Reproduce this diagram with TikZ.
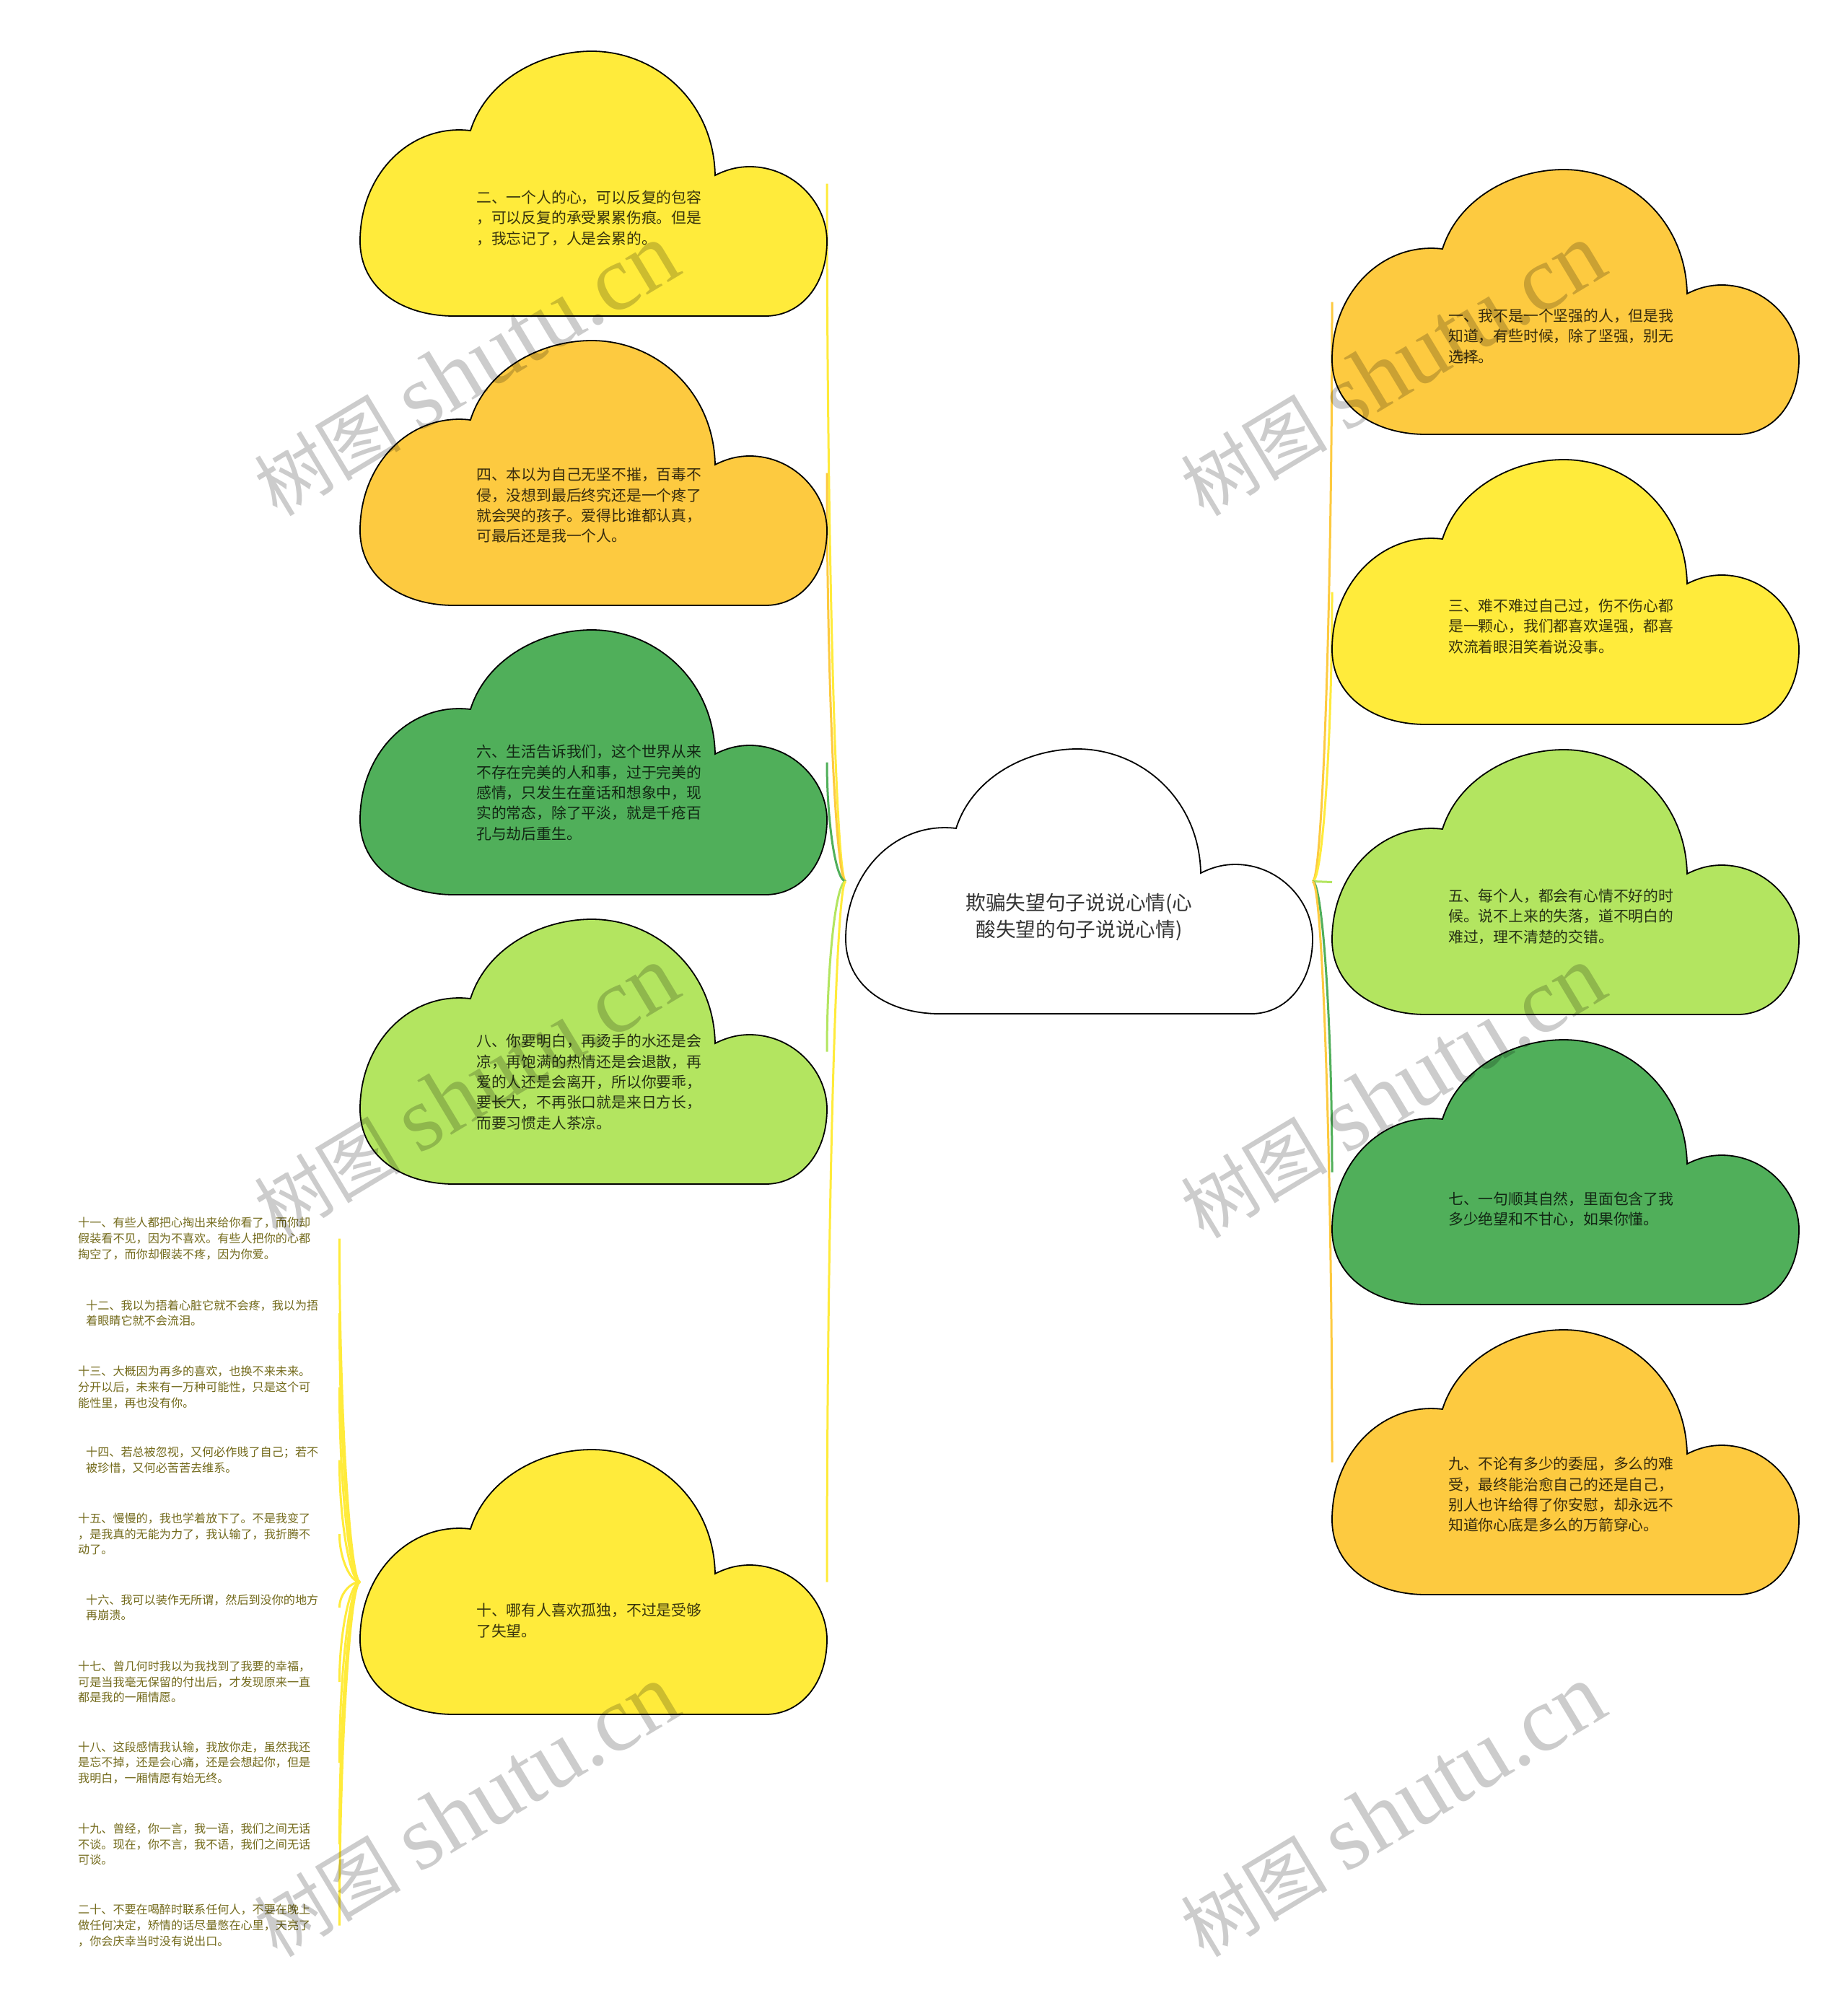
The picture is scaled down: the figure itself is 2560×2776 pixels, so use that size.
\documentclass[tikz,border=0pt]{standalone}
\usepackage{fontspec}
\setmainfont{Noto Sans CJK SC}
\newfontfamily\wmlatin{Liberation Serif}
\definecolor{cyellow}{HTML}{FFEB3B}
\definecolor{corange}{HTML}{FDCA40}
\definecolor{cgreen}{HTML}{50AF5A}
\definecolor{clight}{HTML}{B3E560}
\definecolor{ctitle}{HTML}{333333}
\newcommand\cloudat[2]{%
  \path[cloudline, fill=#2, shift={(#1)}]
  (130,367) -- (562,367)
  .. controls (610,367) and (647,325) .. (647,263)
  .. controls (647,210) and (600,160) .. (540,160)
  .. controls (525,160) and (510,163) .. (492,172)
  .. controls (490,70) and (410,0) .. (321,0)
  .. controls (250,0) and (175,40) .. (153,110)
  .. controls (70,100) and (0,170) .. (0,263)
  .. controls (0,330) and (60,367) .. (130,367) -- cycle;}
\begin{document}
\begin{tikzpicture}[x=1pt,y=-1pt,
  cloudbox/.style={minimum width=647pt, minimum height=367pt, inner sep=0pt, outer sep=0pt, anchor=north west},
  cloudline/.style={draw=black, line width=1.8pt},
  conn/.style={draw=#1, line width=3pt},
  ctext/.style={text=#1!22!black, anchor=west, align=left, inner sep=0pt, text width=330pt, font=\fontsize{20.8}{28.3}\selectfont},
  leaf/.style={text=cyellow!45!black, anchor=west, align=left, inner sep=0pt, font=\fontsize{16.1}{21.6}\selectfont},
  wm/.style={text=black, text opacity=0.2, rotate=31, inner sep=0pt}]
\fill[white] (0,0) rectangle (2560,2776);
\useasboundingbox (0,0) rectangle (2560,2776);

% boxes
\node[cloudbox] (cen) at (1172,1038) {};
\node[cloudbox] (c2) at (499,71) {};
\node[cloudbox] (c4) at (499,472) {};
\node[cloudbox] (c6) at (499,873) {};
\node[cloudbox] (c8) at (499,1274) {};
\node[cloudbox] (c10) at (499,2009) {};
\node[cloudbox] (c1) at (1846,235) {};
\node[cloudbox] (c3) at (1846,637) {};
\node[cloudbox] (c5) at (1846,1039) {};
\node[cloudbox] (c7) at (1846,1441) {};
\node[cloudbox] (c9) at (1846,1843) {};

% leaves
\node[leaf, text width=362pt] (l11) at (108,1716.5) {十一、有些人都把心掏出来给你看了，而你却\\假装看不见，因为不喜欢。有些人把你的心都\\掏空了，而你却假装不疼，因为你爱。};
\node[leaf, text width=351pt] (l12) at (119,1820) {十二、我以为捂着心脏它就不会疼，我以为捂\\着眼睛它就不会流泪。};
\node[leaf, text width=362pt] (l13) at (108,1922.5) {十三、大概因为再多的喜欢，也换不来未来。\\分开以后，未来有一万种可能性，只是这个可\\能性里，再也没有你。};
\node[leaf, text width=351pt] (l14) at (119,2023.5) {十四、若总被忽视，又何必作贱了自己；若不\\被珍惜，又何必苦苦去维系。};
\node[leaf, text width=362pt] (l15) at (108,2126) {十五、慢慢的，我也学着放下了。不是我变了\\，是我真的无能为力了，我认输了，我折腾不\\动了。};
\node[leaf, text width=351pt] (l16) at (119,2228) {十六、我可以装作无所谓，然后到没你的地方\\再崩溃。};
\node[leaf, text width=362pt] (l17) at (108,2331) {十七、曾几何时我以为我找到了我要的幸福，\\可是当我毫无保留的付出后，才发现原来一直\\都是我的一厢情愿。};
\node[leaf, text width=362pt] (l18) at (108,2443) {十八、这段感情我认输，我放你走，虽然我还\\是忘不掉，还是会心痛，还是会想起你，但是\\我明白，一厢情愿有始无终。};
\node[leaf, text width=362pt] (l19) at (108,2556) {十九、曾经，你一言，我一语，我们之间无话\\不谈。现在，你不言，我不语，我们之间无话\\可谈。};
\node[leaf, text width=362pt] (l20) at (108,2668.5) {二十、不要在喝醉时联系任何人，不要在晚上\\做任何决定，矫情的话尽量憋在心里，天亮了\\，你会庆幸当时没有说出口。};

% connectors
\draw[conn=cyellow] (cen.west) .. controls +(-14,0) and +(0,484) .. (c2.east);
\draw[conn=corange] (cen.west) .. controls +(-14,0) and +(0,283) .. (c4.east);
\draw[conn=cgreen] (cen.west) .. controls +(-14,0) and +(0,82) .. (c6.east);
\draw[conn=clight] (cen.west) .. controls +(-14,0) and +(0,-118) .. (c8.east);
\draw[conn=cyellow] (cen.west) .. controls +(-14,0) and +(0,-486) .. (c10.east);
\draw[conn=corange] (cen.east) .. controls +(14,0) and +(0,402) .. (c1.west);
\draw[conn=cyellow] (cen.east) .. controls +(14,0) and +(0,200) .. (c3.west);
\draw[conn=clight] (cen.east) -- (c5.west);
\draw[conn=cgreen] (cen.east) .. controls +(14,0) and +(0,-201) .. (c7.west);
\draw[conn=corange] (cen.east) .. controls +(14,0) and +(0,-402) .. (c9.west);

\draw[conn=cyellow] (c10.west) .. controls +(-14,0) and +(0,238) .. (l11.east);
\draw[conn=cyellow] (c10.west) .. controls +(-14,0) and +(0,186) .. (l12.east);
\draw[conn=cyellow] (c10.west) .. controls +(-14,0) and +(0,135) .. (l13.east);
\draw[conn=cyellow] (c10.west) .. controls +(-14,0) and +(0,84) .. (l14.east);
\draw[conn=cyellow] (c10.west) .. controls +(-14,0) and +(0,33) .. (l15.east);
\draw[conn=cyellow] (c10.west) .. controls +(-14,0) and +(0,-18) .. (l16.east);
\draw[conn=cyellow] (c10.west) .. controls +(-14,0) and +(0,-69) .. (l17.east);
\draw[conn=cyellow] (c10.west) .. controls +(-14,0) and +(0,-125) .. (l18.east);
\draw[conn=cyellow] (c10.west) .. controls +(-14,0) and +(0,-182) .. (l19.east);
\draw[conn=cyellow] (c10.west) .. controls +(-14,0) and +(0,-238) .. (l20.east);

% cloud shapes
\cloudat{cen.north west}{white}
\cloudat{c2.north west}{cyellow}
\cloudat{c4.north west}{corange}
\cloudat{c6.north west}{cgreen}
\cloudat{c8.north west}{clight}
\cloudat{c10.north west}{cyellow}
\cloudat{c1.north west}{corange}
\cloudat{c3.north west}{cyellow}
\cloudat{c5.north west}{clight}
\cloudat{c7.north west}{cgreen}
\cloudat{c9.north west}{corange}

% texts
\node[text=ctitle, align=center, inner sep=0pt, font=\fontsize{27.7}{37}\selectfont] (tcen) at ([shift={(323.5,233)}]cen.north west) {欺骗失望句子说说心情(心\\酸失望的句子说说心情)};
\node[ctext=cyellow] (t2) at ([shift={(161,231)}]c2.north west) {二、一个人的心，可以反复的包容\\，可以反复的承受累累伤痕。但是\\，我忘记了，人是会累的。};
\node[ctext=corange] (t4) at ([shift={(161,228.5)}]c4.north west) {四、本以为自己无坚不摧，百毒不\\侵，没想到最后终究还是一个疼了\\就会哭的孩子。爱得比谁都认真，\\可最后还是我一个人。};
\node[ctext=cgreen] (t6) at ([shift={(161,225.5)}]c6.north west) {六、生活告诉我们，这个世界从来\\不存在完美的人和事，过于完美的\\感情，只发生在童话和想象中，现\\实的常态，除了平淡，就是千疮百\\孔与劫后重生。};
\node[ctext=clight] (t8) at ([shift={(161,225.5)}]c8.north west) {八、你要明白，再烫手的水还是会\\凉，再饱满的热情还是会退散，再\\爱的人还是会离开，所以你要乖，\\要长大，不再张口就是来日方长，\\而要习惯走人茶凉。};
\node[ctext=cyellow] (t10) at ([shift={(161,237)}]c10.north west) {十、哪有人喜欢孤独，不过是受够\\了失望。};
\node[ctext=corange] (t1) at ([shift={(161,231)}]c1.north west) {一、我不是一个坚强的人，但是我\\知道，有些时候，除了坚强，别无\\选择。};
\node[ctext=cyellow] (t3) at ([shift={(161,231)}]c3.north west) {三、难不难过自己过，伤不伤心都\\是一颗心，我们都喜欢逞强，都喜\\欢流着眼泪笑着说没事。};
\node[ctext=clight] (t5) at ([shift={(161,231)}]c5.north west) {五、每个人，都会有心情不好的时\\候。说不上来的失落，道不明白的\\难过，理不清楚的交错。};
\node[ctext=cgreen] (t7) at ([shift={(161,235)}]c7.north west) {七、一句顺其自然，里面包含了我\\多少绝望和不甘心，如果你懂。};
\node[ctext=corange] (t9) at ([shift={(161,228.5)}]c9.north west) {九、不论有多少的委屈，多么的难\\受，最终能治愈自己的还是自己，\\别人也许给得了你安慰，却永远不\\知道你心底是多么的万箭穿心。};

% watermarks
\foreach \wx/\wy [count=\i] in {646/513, 1930/513, 646/1514, 1930/1514, 646/2510, 1930/2510}{
  \node[wm] (wm\i) at (\wx,\wy) {{\fontsize{102}{102}\selectfont 树图}\hspace{25pt}{\wmlatin\fontsize{128}{128}\selectfont shutu.cn}};
}
\end{tikzpicture}
\end{document}
